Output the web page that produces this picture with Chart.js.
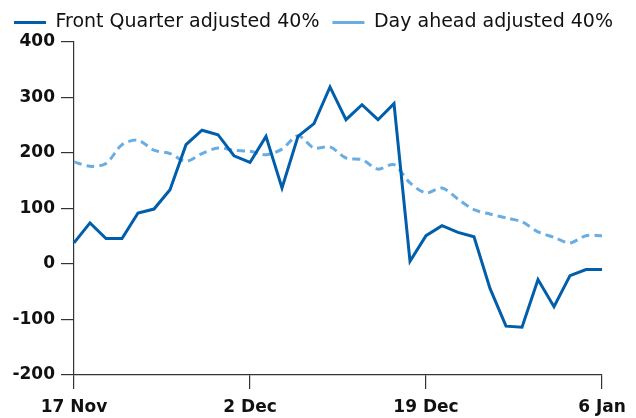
<!DOCTYPE html>
<html>
<head>
<meta charset="utf-8">
<script src="https://cdn.jsdelivr.net/npm/chart.js@4.4.1/dist/chart.umd.min.js"></script>
<style>
  html, body { margin: 0; padding: 0; background: #fff; }
  #wrap { width: 636px; height: 418px; }
</style>
</head>
<body>
<div id="wrap"><canvas id="spreadChart" width="636" height="418"></canvas></div>
<script>
// dates on the x axis (one per observation)
const categories = ['17 Nov','18 Nov','19 Nov','20 Nov','21 Nov','24 Nov','25 Nov','26 Nov','27 Nov','28 Nov',
  '1 Dec','2 Dec','3 Dec','4 Dec','5 Dec','8 Dec','9 Dec','10 Dec','11 Dec','12 Dec','15 Dec','17 Dec',
  '19 Dec','22 Dec','23 Dec','24 Dec','29 Dec','30 Dec','31 Dec','1 Jan','2 Jan','3 Jan','5 Jan','6 Jan'];
const tickLabels = ['17 Nov', '2 Dec', '19 Dec', '6 Jan'];

const frontQuarter = [38, 74, 46, 46, 92, 99, 134, 215, 241, 233, 195, 183, 230, 137, 230, 253, 319,
  260, 287, 260, 289, 5, 51, 69, 57, 49, -44, -112, -114, -28, -77, -21, -10, -10];
const dayAhead = [184, 176, 181, 215, 223, 205, 199, 185, 199, 209, 205, 203, 197, 207, 231, 209, 211,
  191, 188, 171, 179, 146, 128, 137, 117, 98, 90, 83, 76, 58, 48, 38, 51, 51];

const yMin = -200;
const yMax = 400;
const yStep = 100;

const axisColor = '#333333';
const fontFamily = '"DejaVu Sans", Verdana, sans-serif';

new Chart(document.getElementById('spreadChart'), {
  type: 'line',
  data: {
    labels: categories,
    datasets: [
      {
        label: 'Front Quarter adjusted 40%',
        data: frontQuarter,
        borderColor: '#005eaa',
        backgroundColor: '#005eaa',
        borderWidth: 3,
        pointRadius: 0,
        tension: 0,
        pointStyle: 'line'
      },
      {
        label: 'Day ahead adjusted 40%',
        data: dayAhead,
        borderColor: '#6aade2',
        backgroundColor: '#6aade2',
        borderWidth: 3,
        borderDash: [8, 5],
        pointRadius: 0,
        tension: 0.3,
        pointStyle: 'line'
      }
    ]
  },
  options: {
    responsive: false,
    animation: false,
    layout: { padding: { left: 1, right: 0, top: 0, bottom: 0 } },
    plugins: {
      legend: {
        display: true,
        position: 'top',
        align: 'start',
        labels: {
          usePointStyle: true,
          pointStyleWidth: 32,
          padding: 13,
          color: '#111',
          font: { family: fontFamily, size: 19 }
        }
      },
      tooltip: { enabled: false }
    },
    scales: {
      x: {
        type: 'category',
        afterBuildTicks: function (scale) {
          scale.ticks = scale.ticks.filter(t => tickLabels.includes(categories[t.value]));
        },
        afterFit: function (scale) { scale.height = 43; },
        grid: { display: true, drawOnChartArea: false, drawTicks: true, tickLength: 14, color: axisColor, lineWidth: 1.2 },
        border: { display: true, color: axisColor, width: 1.2 },
        ticks: {
          autoSkip: false,
          maxRotation: 0,
          padding: 8,
          color: '#111',
          font: { family: fontFamily, size: 17, weight: 'bold' }
        }
      },
      y: {
        min: yMin,
        max: yMax,
        afterFit: function (scale) { scale.width = 73; },
        grid: { display: true, drawOnChartArea: false, drawTicks: true, tickLength: 13, color: axisColor, lineWidth: 1.2 },
        border: { display: true, color: axisColor, width: 1.2 },
        ticks: {
          stepSize: yStep,
          padding: 6,
          color: '#111',
          font: { family: fontFamily, size: 17, weight: 'bold' }
        }
      },
      // empty right-hand strip so the plot ends where the reference does
      yRight: {
        position: 'right',
        display: true,
        afterFit: function (scale) { scale.width = 34; },
        grid: { display: false },
        border: { display: false },
        ticks: { display: false }
      }
    }
  }
});
</script>
</body>
</html>
